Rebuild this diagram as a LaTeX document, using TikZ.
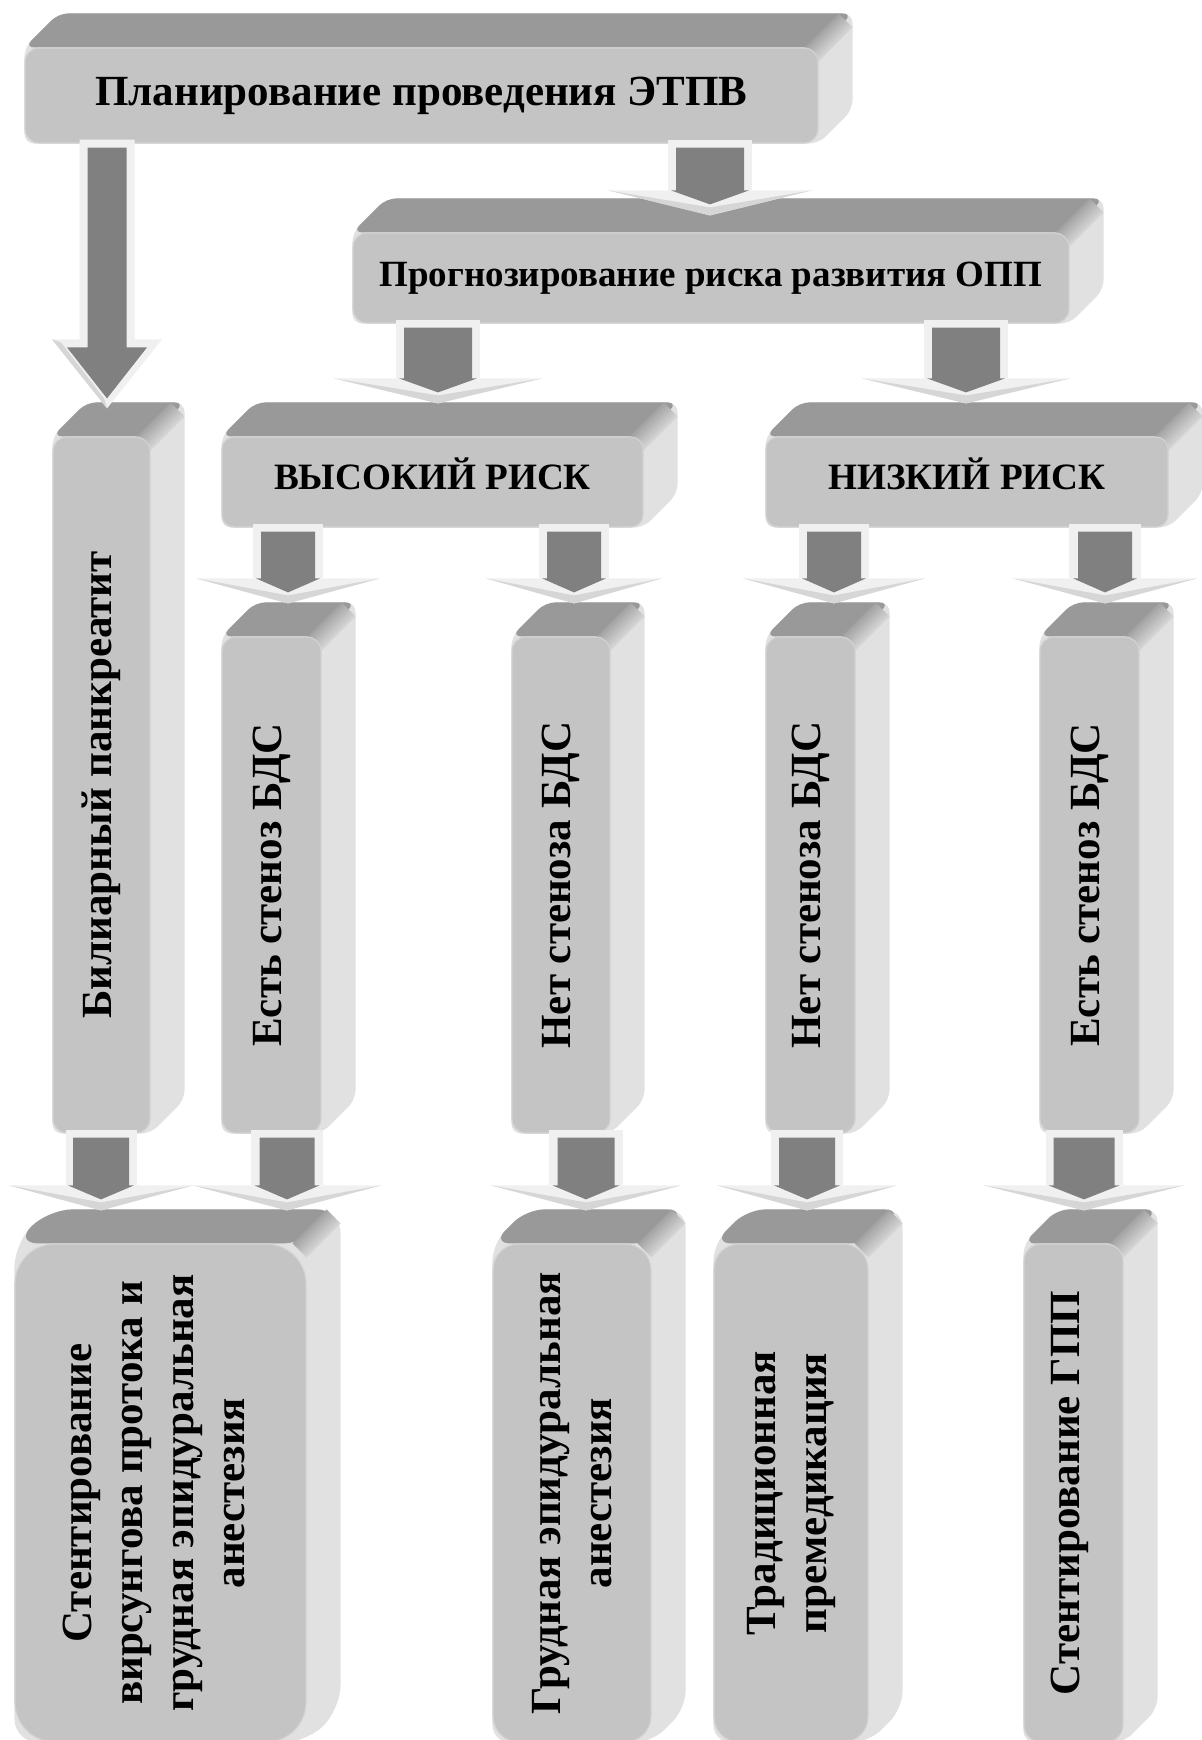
\documentclass[tikz,border=0pt]{standalone}
\usepackage{fontspec}
\setmainfont{Liberation Serif}
\usetikzlibrary{calc}
\pgfdeclarelayer{back}
\pgfdeclarelayer{bg}
\pgfdeclarelayer{fg}
\pgfsetlayers{back,bg,main,fg}
\definecolor{frontc}{HTML}{C4C4C4}
\definecolor{topc}{HTML}{999999}
\definecolor{sidec}{HTML}{E1E1E1}
\definecolor{edgec}{HTML}{D2D2D2}
\definecolor{adark}{HTML}{808080}
\definecolor{alight}{HTML}{F0F0F0}
\definecolor{ashade}{HTML}{D6D6D6}
\pgfdeclareverticalshading{bevel}{100bp}{color(0bp)=(sidec); color(36bp)=(sidec); color(64bp)=(topc); color(100bp)=(topc)}
\tikzset{
  face/.style={draw=edgec, line width=0.6pt, fill=frontc, inner sep=0pt},
  lbl/.style={font=\bfseries\fontsize{21.5}{25.5}\selectfont, align=center, inner sep=0pt, text=black},
  lblsm/.style={font=\bfseries\fontsize{18.5}{22}\selectfont, align=center, inner sep=0pt, text=black},
  lblrisk/.style={font=\bfseries\fontsize{18.6}{22}\selectfont, inner sep=0pt, text=black, anchor=base},
  vert/.style={rotate=90},
}
% front face: name, x1, y1, x2, y2 (px), radius (pt)
\newcommand{\face}[6]{%
  \node[face, rounded corners=#6, minimum width={(#4-#2)*0.5pt}, minimum height={(#5-#3)*0.5pt}]
    (#1) at ({(#2+#4)/2},{(#3+#5)/2}) {};
}
% extrusion of a face: name, radius (pt)
\newcommand{\extrude}[2]{%
  \fill[sidec, rounded corners=#2] (#1.north west) -- ++(34,-34) -- ($(#1.north east)+(34,-34)$)
     -- ($(#1.south east)+(34,-34)$) -- (#1.south east) -- (#1.south west) -- cycle;
  \fill[topc, rounded corners=#2] (#1.north west) -- ++(34,-34) -- ($(#1.north east)+(34,-34)$)
     -- (#1.north east) -- cycle;
  \shade[shading=bevel, shading angle=45] ($(#1.north east)+(-14,0)$) -- ($(#1.north east)+(20,-34)$)
     -- ($(#1.north east)+(34,-20)$) -- ($(#1.north east)+(0,14)$) -- cycle;
}
% flat block arrow: x, from, to, light half, dark half, wing half, tip offset, name
\newcommand{\flatarrow}[8]{%
  \path let \p1=(#2.south), \p2=(#3.north) in
    coordinate (#8-s) at ({#1*0.5pt},{\y1+2pt})
    coordinate (#8-e) at ({#1*0.5pt},{\y2+17pt-#7*0.5pt});
  \fill[alight] ($(#8-s)+(-#4,0)$) rectangle ($(#8-e)+(#4,-25)$);
  \fill[alight] ($(#8-e)+(-#6,-25)$) -- ($(#8-e)+(#6,-25)$) -- (#8-e) -- cycle;
  \fill[ashade] ($(#8-e)+(-#6,-25)$) -- (#8-e) -- ($(#8-e)+(#6,-25)$) -- ($(#8-e)+(0,-8)$) -- cycle;
  \fill[adark] ($(#8-s)+(-#5,8)$) -- ($(#8-s)+(#5,8)$) -- ($(#8-e)+(#5,-25)$) -- ($(#8-e)+(#5+5,-25)$)
     -- ($(#8-e)+(0,-11)$) -- ($(#8-e)+(-#5-5,-25)$) -- ($(#8-e)+(-#5,-25)$) -- cycle;
}
\begin{document}
\begin{tikzpicture}[x=0.5pt,y=-0.5pt]
\useasboundingbox (0,0) rectangle (1201,1740);
\begin{pgfonlayer}{back}
  \fill[white] (0,0) rectangle (1201,1740);
\end{pgfonlayer}

% ---------- front faces ----------
\face{top}{25}{48}{818}{143}{7pt}
\face{prog}{353}{233}{1069}{323}{7pt}
\face{high}{222}{437}{643}{527}{6pt}
\face{low}{766}{437}{1168}{527}{6pt}
\face{bil}{53}{437}{150}{1133}{7pt}
\face{yes1}{222}{637}{321}{1133}{7pt}
\face{no1}{512}{637}{610}{1133}{7pt}
\face{no2}{766}{637}{855}{1133}{7pt}
\face{yes2}{1040}{637}{1139}{1133}{7pt}
\face{st1}{15}{1244}{306}{1742}{20pt}
\face{gr}{493}{1244}{651}{1742}{13pt}
\face{tr}{714}{1244}{868}{1742}{12.5pt}
\face{st2}{1024}{1244}{1123}{1742}{8.5pt}

% ---------- extrusions ----------
\begin{pgfonlayer}{bg}
  \extrude{top}{5pt}
  \extrude{prog}{5pt}
  \extrude{high}{5pt}
  \extrude{low}{5pt}
  \extrude{bil}{5pt}
  \extrude{yes1}{5pt}
  \extrude{no1}{5pt}
  \extrude{no2}{5pt}
  \extrude{yes2}{5pt}
  \extrude{st1}{12pt}
  \extrude{gr}{9pt}
  \extrude{tr}{9pt}
  \extrude{st2}{6pt}
\end{pgfonlayer}

% ---------- texts ----------
\node[lbl] (top-t) at (top) {Планирование проведения ЭТПВ};
\node[lblsm] (prog-t) at (prog) {Прогнозирование риска развития ОПП};
\node[lblrisk] (high-t) at ($(high.center)+(0,7)$) {ВЫСОКИЙ РИСК};
\node[lblrisk] (low-t) at ($(low.center)+(0,7)$) {НИЗКИЙ РИСК};
\node[lbl, vert] (bil-t) at (bil) {Билиарный панкреатит};
\node[lbl, vert] (yes1-t) at (yes1) {Есть стеноз БДС};
\node[lbl, vert] (no1-t) at (no1) {Нет стеноза БДС};
\node[lbl, vert] (no2-t) at (no2) {Нет стеноза БДС};
\node[lbl, vert] (yes2-t) at (yes2) {Есть стеноз БДС};
\node[lbl, vert] (st1-t) at ($(st1.center)+(-7,0)$) {Стентирование\\вирсунгова протока и\\грудная эпидуральная\\анестезия};
\node[lbl, vert] (gr-t) at (gr) {Грудная эпидуральная\\анестезия};
\node[lbl, vert] (tr-t) at (tr) {Традиционная\\премедикация};
\node[lbl, vert] (st2-t) at ($(st2.center)+(-4,0)$) {Стентирование ГПП};

% ---------- arrows ----------
\begin{pgfonlayer}{fg}
  % long arrow from top box to biliary box
  \path let \p1=(top.south), \p2=(bil.north) in
    coordinate (la-s) at ({107*0.5pt},{\y1+2pt})
    coordinate (la-e) at ({107*0.5pt},{\y2+17pt-3pt});
  \fill[alight] ($(la-s)+(-27.5,0)$) -- ($(la-s)+(27.5,0)$) -- ($(la-e)+(27.5,-69)$) -- ($(la-e)+(55,-69)$)
     -- (la-e) -- ($(la-e)+(-55,-69)$) -- ($(la-e)+(-27.5,-69)$) -- cycle;
  \fill[ashade] ($(la-e)+(-55,-69)$) -- (la-e) -- ($(la-e)+(-3,-10)$) -- ($(la-e)+(-46,-66)$) -- cycle;
  \fill[adark] ($(la-s)+(-19.5,8)$) -- ($(la-s)+(19.5,8)$) -- ($(la-e)+(19.5,-61)$) -- ($(la-e)+(40,-61)$)
     -- ($(la-e)+(0,-10)$) -- ($(la-e)+(-40,-61)$) -- ($(la-e)+(-19.5,-61)$) -- cycle;

  \flatarrow{710}{top}{prog}{42}{34}{102}{17}{a1}
  \flatarrow{438}{prog}{high}{42}{34}{104}{1}{a2}
  \flatarrow{966}{prog}{low}{42}{34}{104}{1}{a3}
  \flatarrow{288}{high}{yes1}{35}{27}{92}{1}{a4}
  \flatarrow{574}{high}{no1}{35}{27}{88}{1}{a5}
  \flatarrow{834}{low}{no2}{35}{27}{91}{1}{a6}
  \flatarrow{1105}{low}{yes2}{36}{27}{92}{1}{a7}
  \flatarrow{101}{bil}{st1}{35.5}{28}{92}{1}{a8}
  \flatarrow{287}{yes1}{st1}{36}{27.5}{94}{1}{a9}
  \flatarrow{586}{no1}{gr}{37}{28.5}{95}{1}{a10}
  \flatarrow{807}{no2}{tr}{36}{28}{90}{1}{a11}
  \flatarrow{1084}{yes2}{st2}{38.5}{30.5}{100}{1}{a12}
\end{pgfonlayer}
\end{tikzpicture}
\end{document}
